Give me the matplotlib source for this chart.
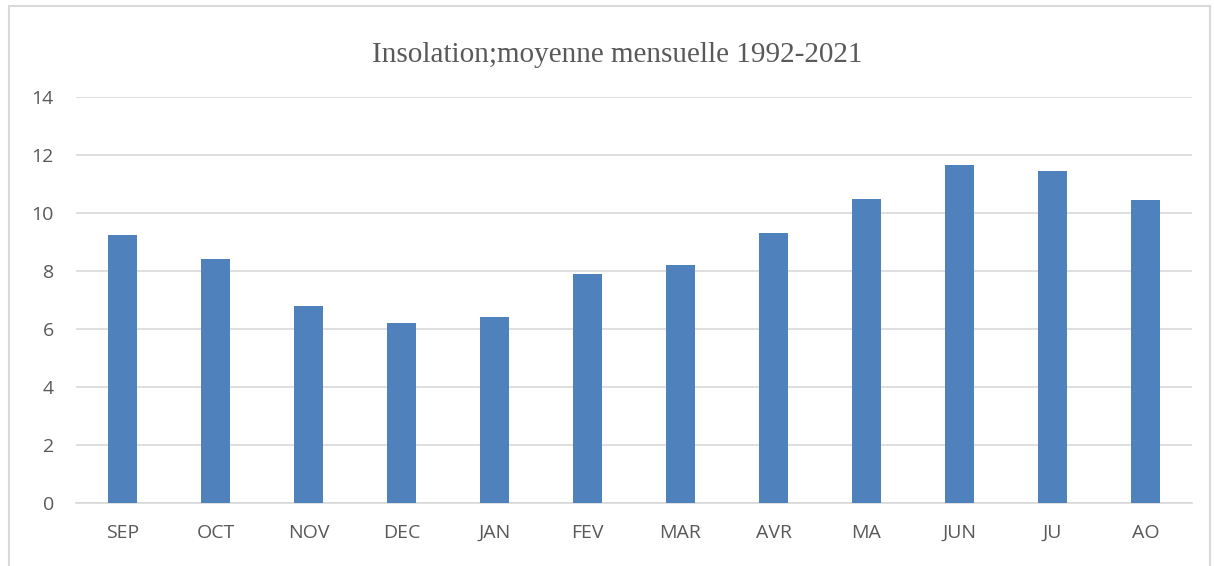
import matplotlib
matplotlib.use("Agg")
import matplotlib.pyplot as plt
from matplotlib.patches import Rectangle

months = ["SEP", "OCT", "NOV", "DEC", "JAN", "FEV", "MAR", "AVR", "MA", "JUN", "JU", "AO"]
insolation = [9.25, 8.4, 6.8, 6.2, 6.4, 7.9, 8.2, 9.3, 10.5, 11.65, 11.45, 10.45]
yticks = [0, 2, 4, 6, 8, 10, 12, 14]
title = "Insolation;moyenne mensuelle 1992-2021"

W, H = 1214, 566
fig = plt.figure(figsize=(W / 100, H / 100), dpi=100)
fig.patch.set_facecolor("white")

# outer chart border
fig.add_artist(Rectangle((9 / W, -0.05), (1210 - 9) / W, 1 - 6 / H + 0.05,
                         transform=fig.transFigure, fill=False,
                         edgecolor="#d9d9d9", linewidth=1.5))

ax = fig.add_axes([76 / W, 1 - 503 / H, (1192 - 76) / W, (503 - 97) / H])
x = list(range(len(months)))
ax.bar(x, insolation, width=0.31, color="#4f81bd", zorder=3)
ax.set_xlim(-0.5, len(months) - 0.5)
ax.set_ylim(0, 14)
ax.set_yticks(yticks)
ax.set_xticks(x)
ax.set_xticklabels(months)
ax.grid(axis="y", color="#d9d9d9", linewidth=1.2, zorder=0)
for s in ["top", "right", "left"]:
    ax.spines[s].set_visible(False)
ax.spines["bottom"].set_color("#d9d9d9")
ax.spines["bottom"].set_linewidth(1.2)
ax.tick_params(axis="both", length=0, labelsize=14, labelcolor="#595959")
ax.tick_params(axis="y", pad=16)
ax.tick_params(axis="x", pad=15)
for lbl in ax.get_xticklabels() + ax.get_yticklabels():
    lbl.set_family("Open Sans")

fig.text(617 / W, 1 - 55 / H, title, ha="center", va="center",
         fontsize=21, color="#595959", family="Liberation Serif")

fig.savefig("out.png", dpi=100)
